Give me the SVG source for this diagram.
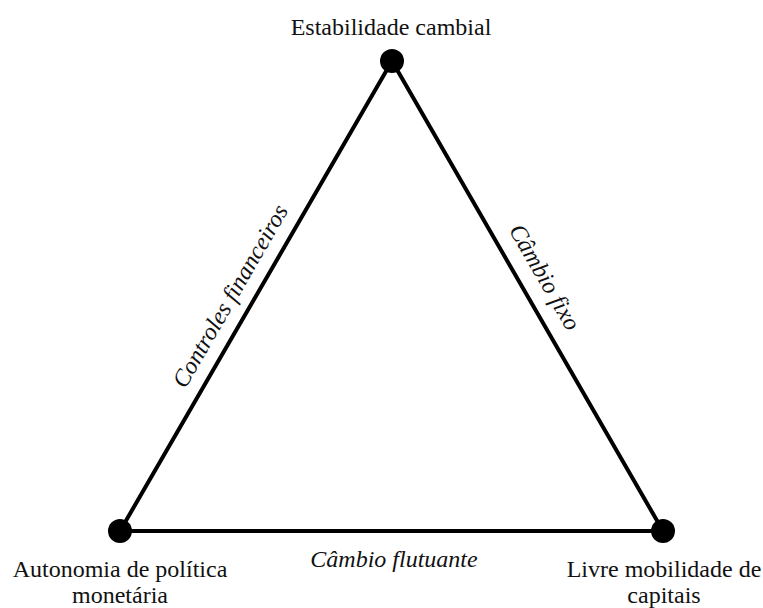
<svg xmlns="http://www.w3.org/2000/svg" width="763" height="608" viewBox="0 0 763 608">
<style>
.edge{stroke:#000;stroke-width:4;fill:none;stroke-linecap:round}
.dot{fill:#000}
text{font-family:'Liberation Serif','Times New Roman',serif;font-size:24px;fill:#111;text-anchor:middle}
.it{font-style:italic}
</style>
<rect width="763" height="608" fill="#fff"/>
<g id="connectors">
<line class="edge" x1="392" y1="61" x2="120" y2="531"/>
<line class="edge" x1="392" y1="61" x2="663" y2="531"/>
<line class="edge" x1="120" y1="531" x2="663" y2="531"/>
<text class="it" x="237" y="300" transform="rotate(-60 237 300)">Controles financeiros</text>
<text class="it" x="538" y="281" transform="rotate(60 538 281)">Câmbio fixo</text>
<text class="it" x="394" y="567">Câmbio flutuante</text>
</g>
<g id="node-top">
<circle class="dot" cx="392" cy="61" r="12"/>
<text x="391" y="35">Estabilidade cambial</text>
</g>
<g id="node-left">
<circle class="dot" cx="120" cy="531" r="12"/>
<text x="120" y="577">Autonomia de política</text>
<text x="120" y="603">monetária</text>
</g>
<g id="node-right">
<circle class="dot" cx="663" cy="531" r="12"/>
<text x="664" y="577">Livre mobilidade de</text>
<text x="664" y="603">capitais</text>
</g>
</svg>
